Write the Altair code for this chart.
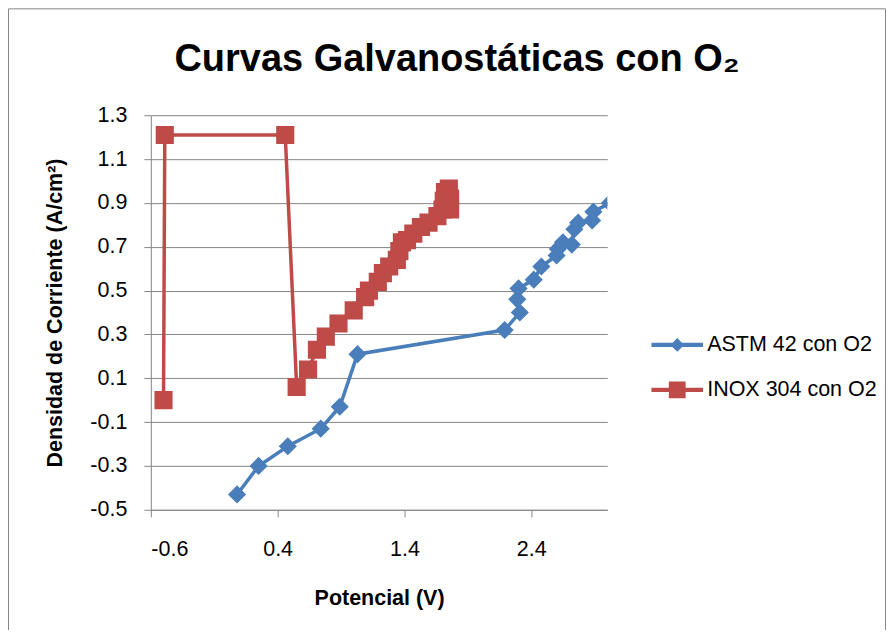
import altair as alt
import pandas as pd

series_names = ["ASTM 42 con O2", "INOX 304 con O2"]
line_colors = ["#4A7EBB", "#BE4B48"]
marker_shapes = ["diamond", "square"]

astm_x = [0.08, 0.25, 0.48, 0.74, 0.89, 1.03, 2.19, 2.31, 2.29, 2.30, 2.42, 2.48,
          2.60, 2.61, 2.65, 2.72, 2.74, 2.77, 2.88, 2.89, 3.02]
astm_y = [-0.43, -0.30, -0.21, -0.13, -0.03, 0.21, 0.32, 0.40, 0.46, 0.51, 0.55, 0.61,
          0.66, 0.69, 0.72, 0.71, 0.78, 0.81, 0.82, 0.86, 0.90]

inox_x = [-0.50, -0.49, 0.46, 0.55, 0.64, 0.71, 0.78, 0.88, 1.00, 1.09, 1.12, 1.19,
          1.23, 1.28, 1.34, 1.36, 1.38, 1.42, 1.47, 1.53, 1.59, 1.66, 1.70, 1.71,
          1.72, 1.75, 1.76, 1.76]
inox_y = [0.00, 1.21, 1.21, 0.06, 0.14, 0.23, 0.29, 0.35, 0.41, 0.47, 0.50, 0.54,
          0.58, 0.61, 0.64, 0.68, 0.72, 0.73, 0.76, 0.79, 0.81, 0.84, 0.87, 0.91,
          0.95, 0.965, 0.92, 0.87]

x_ticks = [-0.6, 0.4, 1.4, 2.4]
y_ticks = [-0.5, -0.3, -0.1, 0.1, 0.3, 0.5, 0.7, 0.9, 1.1, 1.3]

rows = []
for serie, xs, ys in [(series_names[0], astm_x, astm_y), (series_names[1], inox_x, inox_y)]:
    for i, (xv, yv) in enumerate(zip(xs, ys)):
        rows.append({"serie": serie, "x": xv, "y": yv, "orden": i})
df = pd.DataFrame(rows)

TEXT_FONT = "Liberation Sans, Arial, sans-serif"
GRAY = "#868686"
HYPHEN = "replace(datum.label, '\u2212', '-')"

xscale = alt.Scale(domain=[-0.6, 3.0], nice=False, zero=False)
yscale = alt.Scale(domain=[-0.5, 1.3], nice=False, zero=False)

X = alt.X("x:Q", scale=xscale,
          axis=alt.Axis(values=x_ticks, format=".1f", labelExpr=HYPHEN, title="Potencial (V)",
                        grid=False, tickSize=7, labelPadding=22, titlePadding=27))
Y = alt.Y("y:Q", scale=yscale,
          axis=alt.Axis(values=y_ticks, format=".1f", labelExpr=HYPHEN,
                        title="Densidad de Corriente (A/cm²)",
                        grid=True, tickSize=7, labelPadding=17, titlePadding=23))

# legend symbols: a line segment with the series marker in the middle
path_astm = "M-1.72,-0.14L1.72,-0.14L1.72,0.14L-1.72,0.14ZM0,-0.46L0.46,0L0,0.46L-0.46,0Z"
path_inox = "M-1.72,-0.14L1.72,-0.14L1.72,0.14L-1.72,0.14ZM-0.56,-0.56L0.56,-0.56L0.56,0.56L-0.56,0.56Z"

legend = alt.Legend(
    title=None, orient="none", legendX=512, legendY=215, padding=0,
    symbolSize=900, symbolStrokeWidth=0, symbolOpacity=1, labelOffset=15, rowPadding=19,
    labelFont=TEXT_FONT, labelFontSize=21.5, labelColor="#000000", labelLimit=300,
)

frame = alt.Chart(pd.DataFrame({"k": [0]})).mark_rect(
    fill="transparent", stroke=GRAY, strokeWidth=1, clip=False
).encode(x=alt.value(-142.5), x2=alt.value(735.5), y=alt.value(-106.5), y2=alt.value(600))

series_layers = []
for name, col, shp in zip(series_names, line_colors, marker_shapes):
    base = alt.Chart(df).transform_filter(alt.datum.serie == name)
    series_layers.append(
        base.mark_line(strokeWidth=3.5, clip=True, color=col).encode(x=X, y=Y, order="orden:Q")
    )
    series_layers.append(
        base.mark_point(filled=True, size=330, opacity=1, clip=True, shape=shp, color=col).encode(x=X, y=Y)
    )

# invisible marks (size 0) that only provide the legend
legend_layer = alt.Chart(df).mark_point(filled=True, size=0, clip=True).encode(
    x=X, y=Y,
    color=alt.Color("serie:N", scale=alt.Scale(domain=series_names, range=line_colors), legend=legend),
    shape=alt.Shape("serie:N", scale=alt.Scale(domain=series_names, range=[path_astm, path_inox]), legend=legend),
)

chart = alt.layer(frame, *series_layers, legend_layer).properties(
    width=457, height=395,
    autosize=alt.AutoSizeParams(type="none"),
    padding={"left": 143, "top": 107, "right": 279, "bottom": 120},
    title=alt.TitleParams(text="Curvas Galvanostáticas con O₂", font=TEXT_FONT, fontSize=38,
                          fontWeight="bold", color="#000000", anchor="middle", dx=78, offset=-71),
).configure_view(strokeWidth=0).configure_axis(
    domainColor=GRAY, domainWidth=1, tickColor=GRAY, tickWidth=1,
    gridColor=GRAY, gridWidth=1,
    labelFont=TEXT_FONT, labelFontSize=21.5, labelColor="#000000",
    titleFont=TEXT_FONT, titleFontSize=21.5, titleFontWeight="bold", titleColor="#000000",
)

chart.save("out.html", embed_options={"renderer": "svg", "actions": False})
